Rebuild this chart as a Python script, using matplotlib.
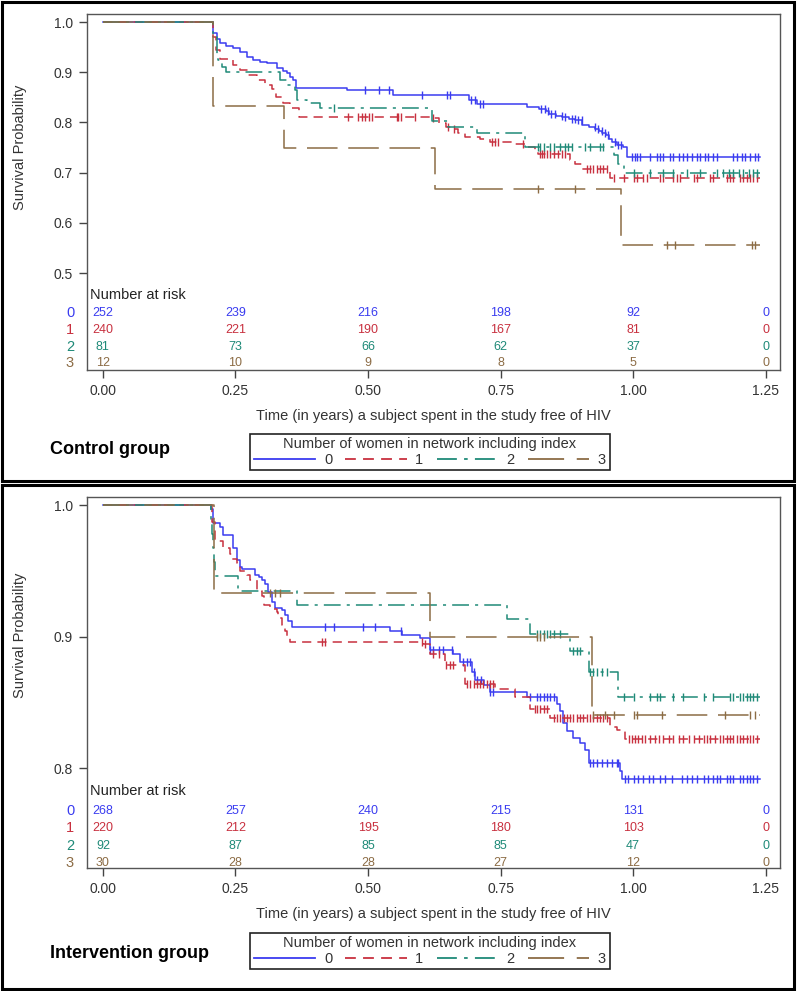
import numpy as np
import matplotlib.pyplot as plt
from matplotlib.patches import Rectangle
from matplotlib.lines import Line2D

plt.rcParams['font.family'] = ['Liberation Sans', 'DejaVu Sans']

# ------------------------
# Data
# ------------------------
groups = ['0', '1', '2', '3']
risk_times = [0.0, 0.25, 0.5, 0.75, 1.0, 1.25]
end_time = 1.24

# Control group: step times / survival after step / censor times
ctrl_t0 = [0.208, 0.215, 0.221, 0.233, 0.246, 0.258, 0.271, 0.284, 0.296, 0.309, 0.328, 0.340,
           0.347, 0.353, 0.359, 0.365, 0.460, 0.548, 0.690, 0.705, 0.800, 0.822, 0.835, 0.841,
           0.855, 0.866, 0.879, 0.891, 0.904, 0.917, 0.929, 0.935, 0.942, 0.948, 0.955, 0.961,
           0.970, 0.980, 0.989]
ctrl_s0 = [0.978, 0.967, 0.958, 0.952, 0.948, 0.941, 0.931, 0.924, 0.921, 0.918, 0.908, 0.903,
           0.898, 0.891, 0.884, 0.869, 0.865, 0.855, 0.845, 0.837, 0.830, 0.827, 0.822, 0.817,
           0.813, 0.811, 0.807, 0.804, 0.794, 0.790, 0.787, 0.782, 0.778, 0.774, 0.767, 0.761,
           0.756, 0.751, 0.731]
ctrl_c0 = [0.494, 0.520, 0.539, 0.601, 0.649, 0.655, 0.695, 0.701, 0.711, 0.717, 0.827, 0.833,
           0.840, 0.846, 0.852, 0.865, 0.871, 0.884, 0.890, 0.896, 0.903, 0.928, 0.934, 0.941,
           0.947, 0.953, 0.966, 0.972, 0.978, 0.998, 1.004, 1.007, 1.013, 1.032, 1.045, 1.051,
           1.057, 1.070, 1.076, 1.086, 1.095, 1.101, 1.111, 1.120, 1.126, 1.136, 1.142, 1.151,
           1.158, 1.189, 1.196, 1.205, 1.211, 1.221, 1.230, 1.236]

ctrl_t1 = [0.208, 0.213, 0.221, 0.246, 0.259, 0.274, 0.290, 0.306, 0.318, 0.326, 0.340, 0.353,
           0.369, 0.617, 0.633, 0.648, 0.658, 0.670, 0.683, 0.711, 0.730, 0.774, 0.799, 0.815,
           0.821, 0.881, 0.891, 0.903, 0.957]
ctrl_s1 = [0.971, 0.944, 0.926, 0.914, 0.904, 0.894, 0.884, 0.874, 0.866, 0.851, 0.838, 0.828,
           0.811, 0.808, 0.799, 0.790, 0.786, 0.778, 0.771, 0.766, 0.762, 0.757, 0.752, 0.742,
           0.737, 0.726, 0.718, 0.708, 0.689]
ctrl_c1 = [0.463, 0.482, 0.488, 0.495, 0.501, 0.507, 0.554, 0.557, 0.563, 0.589, 0.623, 0.651,
           0.662, 0.733, 0.740, 0.746, 0.793, 0.824, 0.828, 0.831, 0.837, 0.843, 0.850, 0.859,
           0.865, 0.872, 0.913, 0.919, 0.925, 0.931, 0.938, 0.944, 0.950, 0.963, 0.982, 1.001,
           1.007, 1.019, 1.026, 1.051, 1.057, 1.076, 1.082, 1.089, 1.114, 1.120, 1.145, 1.151,
           1.177, 1.183, 1.189, 1.202, 1.208, 1.214, 1.221, 1.227, 1.233]

ctrl_t2 = [0.208, 0.215, 0.218, 0.224, 0.233, 0.334, 0.347, 0.362, 0.366, 0.384, 0.409, 0.620,
           0.650, 0.705, 0.796, 0.963, 0.972, 0.982]
ctrl_s2 = [0.971, 0.931, 0.924, 0.911, 0.901, 0.884, 0.874, 0.864, 0.845, 0.838, 0.828, 0.802,
           0.791, 0.778, 0.752, 0.735, 0.718, 0.700]
ctrl_c2 = [0.435, 0.821, 0.824, 0.831, 0.843, 0.850, 0.862, 0.872, 0.878, 0.884, 0.909, 0.919,
           0.938, 0.944, 1.001, 1.032, 1.057, 1.076, 1.101, 1.126, 1.158, 1.170, 1.180, 1.189,
           1.199, 1.208, 1.218, 1.227, 1.233]

ctrl_t3 = [0.208, 0.342, 0.626, 0.978]
ctrl_s3 = [0.833, 0.750, 0.667, 0.556]
ctrl_c3 = [0.821, 0.890, 1.063, 1.079, 1.224, 1.230]

ctrl_risk0 = [252, 239, 216, 198, 92, 0]
ctrl_risk1 = [240, 221, 190, 167, 81, 0]
ctrl_risk2 = [81, 73, 66, 62, 37, 0]
ctrl_risk3 = [12, 10, 9, 8, 5, 0]

# Intervention group
int_t0 = [0.203, 0.208, 0.221, 0.227, 0.246, 0.252, 0.259, 0.262, 0.287, 0.294, 0.300, 0.306,
          0.312, 0.318, 0.325, 0.337, 0.343, 0.350, 0.356, 0.542, 0.564, 0.598, 0.617, 0.661,
          0.674, 0.696, 0.702, 0.718, 0.730, 0.799, 0.856, 0.862, 0.868, 0.875, 0.887, 0.900,
          0.909, 0.916, 0.975, 0.979]
int_s0 = [0.997, 0.986, 0.983, 0.977, 0.967, 0.958, 0.953, 0.951, 0.947, 0.945, 0.943, 0.940,
          0.934, 0.926, 0.922, 0.920, 0.916, 0.912, 0.907, 0.904, 0.901, 0.899, 0.890, 0.887,
          0.881, 0.873, 0.867, 0.863, 0.858, 0.854, 0.849, 0.843, 0.834, 0.828, 0.823, 0.819,
          0.814, 0.804, 0.798, 0.792]
int_c0 = [0.419, 0.435, 0.491, 0.513, 0.563, 0.617, 0.623, 0.633, 0.642, 0.658, 0.680, 0.686,
          0.692, 0.699, 0.705, 0.714, 0.730, 0.736, 0.806, 0.818, 0.824, 0.831, 0.837, 0.843,
          0.850, 0.919, 0.925, 0.932, 0.941, 0.950, 0.960, 0.969, 0.972, 0.985, 0.991, 1.001,
          1.010, 1.019, 1.029, 1.038, 1.051, 1.060, 1.073, 1.092, 1.101, 1.111, 1.120, 1.133,
          1.142, 1.151, 1.158, 1.164, 1.177, 1.183, 1.189, 1.202, 1.208, 1.214, 1.221, 1.227,
          1.233]

int_t1 = [0.205, 0.211, 0.227, 0.240, 0.243, 0.252, 0.259, 0.271, 0.277, 0.290, 0.300, 0.303,
          0.315, 0.328, 0.331, 0.337, 0.343, 0.347, 0.352, 0.604, 0.617, 0.645, 0.683, 0.740,
          0.777, 0.806, 0.843, 0.957, 0.969, 0.985]
int_s1 = [0.987, 0.973, 0.967, 0.963, 0.959, 0.956, 0.950, 0.947, 0.943, 0.935, 0.931, 0.924,
          0.921, 0.919, 0.914, 0.909, 0.904, 0.899, 0.896, 0.894, 0.887, 0.878, 0.864, 0.860,
          0.854, 0.845, 0.838, 0.831, 0.829, 0.822]
int_c1 = [0.413, 0.419, 0.601, 0.607, 0.623, 0.633, 0.648, 0.654, 0.661, 0.686, 0.692, 0.699,
          0.705, 0.711, 0.717, 0.724, 0.730, 0.736, 0.815, 0.818, 0.824, 0.831, 0.837, 0.850,
          0.856, 0.862, 0.869, 0.875, 0.881, 0.887, 0.894, 0.900, 0.906, 0.913, 0.919, 0.925,
          0.931, 0.938, 0.944, 0.950, 0.992, 0.998, 1.004, 1.010, 1.017, 1.023, 1.032, 1.042,
          1.048, 1.057, 1.067, 1.076, 1.086, 1.095, 1.105, 1.114, 1.124, 1.133, 1.139, 1.145,
          1.155, 1.164, 1.170, 1.177, 1.183, 1.189, 1.196, 1.202, 1.208, 1.214, 1.221, 1.227,
          1.233]

int_t2 = [0.203, 0.205, 0.207, 0.209, 0.211, 0.255, 0.366, 0.762, 0.806, 0.881, 0.916, 0.972]
int_s2 = [0.989, 0.978, 0.967, 0.957, 0.946, 0.935, 0.924, 0.913, 0.902, 0.889, 0.873, 0.854]
int_c2 = [0.818, 0.824, 0.831, 0.837, 0.843, 0.850, 0.862, 0.887, 0.894, 0.900, 0.919, 0.925,
          0.932, 0.941, 0.950, 0.982, 1.001, 1.032, 1.045, 1.051, 1.076, 1.095, 1.133, 1.151,
          1.183, 1.189, 1.202, 1.208, 1.214, 1.221, 1.227, 1.233]

int_t3 = [0.210, 0.616, 0.922]
int_s3 = [0.933, 0.900, 0.840]
int_c3 = [0.315, 0.325, 0.334, 0.818, 0.824, 0.831, 0.925, 0.947, 0.963, 1.001, 1.007, 1.054,
          1.174, 1.221, 1.230]

int_risk0 = [268, 257, 240, 215, 131, 0]
int_risk1 = [220, 212, 195, 180, 103, 0]
int_risk2 = [92, 87, 85, 85, 47, 0]
int_risk3 = [30, 28, 28, 27, 12, 0]

# ------------------------
# Styles
# ------------------------
colors = ['#3a3cf0', '#c8303f', '#1f8a78', '#8c6c45']
styles = ['-', (0, (6, 4)), (0, (11, 4, 2, 4)), (0, (20, 7))]
gray = '#333333'

W, H = 797, 991
fig = plt.figure(figsize=(W / 100, H / 100), dpi=100)


def fx(px):
    return px / W


def fy(py):
    return 1 - py / H


def draw_panel(top, bottom, ylim, yticks, curves, risks, row_y, title, title_y, leg_y):
    ax = fig.add_axes([fx(87), fy(bottom), fx(780) - fx(87), fy(top) - fy(bottom)])
    for k, (t, s, c) in enumerate(curves):
        full_t = np.r_[0.0, t, end_time]
        full_s = np.r_[1.0, s, s[-1]]
        ax.step(full_t, full_s, where='post', color=colors[k], ls=styles[k], lw=1.1)
        idx = np.searchsorted(full_t, c, side='right') - 1
        ax.plot(c, full_s[idx], ls='none', marker='|', ms=6, mew=1.0, color=colors[k])

    ax.set_xlim(-0.030, 1.277)
    ax.set_ylim(*ylim)
    ax.set_xticks(risk_times)
    ax.set_xticklabels(['%.2f' % v for v in risk_times])
    ax.set_yticks(yticks)
    ax.set_yticklabels(['%.1f' % v for v in yticks])
    ax.tick_params(direction='out', length=6, width=1.0, colors='#444444',
                   labelcolor=gray, labelsize=10, pad=4)
    for sp in ax.spines.values():
        sp.set_color('#555555')
        sp.set_linewidth(1.0)
    ax.set_xlabel('Time (in years) a subject spent in the study free of HIV',
                  fontsize=10.5, color=gray, labelpad=8)
    ax.set_ylabel('Survival Probability', fontsize=10.5, color=gray)
    ax.yaxis.set_label_coords(-0.087, 0.626)

    # number at risk table
    trans = ax.get_xaxis_transform()
    ax.text(-0.025, row_y[0], 'Number at risk', transform=trans, fontsize=10.5,
            color='#222222', ha='left', va='center')
    for k, counts in enumerate(risks):
        for tt, n in zip(risk_times, counts):
            ax.text(tt, row_y[k + 1], str(n), transform=trans, fontsize=9,
                    color=colors[k], ha='center', va='center')
        ax.text(-0.0245, row_y[k + 1], groups[k], transform=ax.transAxes, fontsize=10.5,
                color=colors[k], ha='center', va='center')

    fig.text(fx(50), fy(title_y), title, fontsize=13, fontweight='bold',
             ha='left', va='center', color='black')

    handles = [Line2D([], [], color=colors[k], ls=styles[k], lw=1.3) for k in range(4)]
    leg = fig.legend(handles, groups, title='Number of women in network including index',
                     ncol=4, loc='center', bbox_to_anchor=(fx(430), fy(leg_y)),
                     fontsize=10.5, title_fontsize=10.5, handlelength=4.2,
                     handletextpad=0.6, columnspacing=0.9, borderpad=0.25,
                     labelspacing=0.1, fancybox=False, edgecolor='#222222', framealpha=1)
    leg.get_frame().set_linewidth(1.2)
    plt.setp(leg.get_title(), color=gray)
    for txt in leg.get_texts():
        txt.set_color(gray)
    return ax


ctrl_curves = [(ctrl_t0, ctrl_s0, ctrl_c0), (ctrl_t1, ctrl_s1, ctrl_c1),
               (ctrl_t2, ctrl_s2, ctrl_c2), (ctrl_t3, ctrl_s3, ctrl_c3)]
int_curves = [(int_t0, int_s0, int_c0), (int_t1, int_s1, int_c1),
              (int_t2, int_s2, int_c2), (int_t3, int_s3, int_c3)]

draw_panel(14, 370, (0.3068, 1.016), [0.5, 0.6, 0.7, 0.8, 0.9, 1.0], ctrl_curves,
           [ctrl_risk0, ctrl_risk1, ctrl_risk2, ctrl_risk3],
           [0.211, 0.160, 0.112, 0.065, 0.020], 'Control group', 450, 452)
draw_panel(497, 868, (0.724, 1.0061), [0.8, 0.9, 1.0], int_curves,
           [int_risk0, int_risk1, int_risk2, int_risk3],
           [0.2075, 0.154, 0.108, 0.059, 0.013], 'Intervention group', 953, 951)

# outer panel borders
for y0, y1 in [(2, 481), (485, 989)]:
    fig.add_artist(Rectangle((fx(2), fy(y1)), fx(794) - fx(2), fy(y0) - fy(y1),
                             transform=fig.transFigure, fill=False, lw=2.2, ec='black'))

fig.savefig('out.png', dpi=100)
